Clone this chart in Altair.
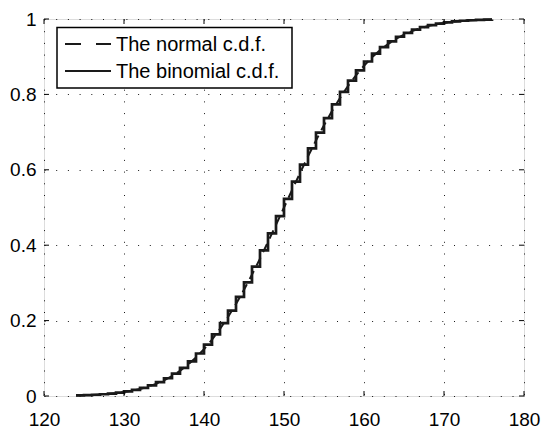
import altair as alt
import pandas as pd

# Data
x_vals = list(range(124, 177))
binom_cdf = [0.0016, 0.0023, 0.0033, 0.0047, 0.0065, 0.0090, 0.0122, 0.0163, 0.0216, 0.0284,
             0.0367, 0.0471, 0.0595, 0.0745, 0.0921, 0.1127, 0.1363, 0.1632, 0.1932, 0.2264,
             0.2627, 0.3016, 0.3431, 0.3864, 0.4313, 0.4770, 0.5230, 0.5687, 0.6136, 0.6569,
             0.6984, 0.7373, 0.7736, 0.8068, 0.8368, 0.8637, 0.8873, 0.9079, 0.9255, 0.9405,
             0.9529, 0.9633, 0.9716, 0.9784, 0.9837, 0.9878, 0.9910, 0.9935, 0.9953, 0.9967,
             0.9977, 0.9984, 0.9989]
normal_cdf = [0.0013, 0.0019, 0.0028, 0.0040, 0.0055, 0.0077, 0.0105, 0.0141, 0.0188, 0.0248,
              0.0323, 0.0416, 0.0530, 0.0667, 0.0829, 0.1020, 0.1241, 0.1494, 0.1778, 0.2095,
              0.2442, 0.2819, 0.3221, 0.3645, 0.4087, 0.4541, 0.5000, 0.5459, 0.5913, 0.6355,
              0.6779, 0.7181, 0.7558, 0.7905, 0.8222, 0.8506, 0.8759, 0.8980, 0.9171, 0.9333,
              0.9470, 0.9584, 0.9677, 0.9752, 0.9812, 0.9859, 0.9895, 0.9923, 0.9945, 0.9960,
              0.9972, 0.9981, 0.9987]
x_ticks = [120, 130, 140, 150, 160, 170, 180]
y_ticks = [0, 0.2, 0.4, 0.6, 0.8, 1]
legend_labels = ["The normal c.d.f.", "The binomial c.d.f."]

W, H = 480, 377
FONT = "Liberation Sans"
INK = "#1a1a1a"

df = pd.DataFrame({"x": x_vals, "binom": binom_cdf, "normal": normal_cdf})
xt = pd.DataFrame({"t": x_ticks})
yt = pd.DataFrame({"t": y_ticks})
one = alt.Data(values=[{}])

xscale = alt.Scale(domain=[120, 180], nice=False, zero=False)
yscale = alt.Scale(domain=[0, 1], nice=False, zero=False)

axis_common = dict(
    grid=True, gridDash=[1, 10.7], gridColor="#000000", gridOpacity=0.9, gridWidth=1,
    ticks=False, domain=False, labelFont=FONT, labelFontSize=19, labelColor="#000000",
    labelFlush=False, title=None,
)

X = alt.X("x:Q", scale=xscale,
          axis=alt.Axis(values=x_ticks, labelPadding=14, **axis_common))
Y = alt.Y("binom:Q", scale=yscale,
          axis=alt.Axis(values=y_ticks, format="~g", labelPadding=8, **axis_common))

normal = alt.Chart(df).mark_line(color=INK, strokeWidth=2, strokeDash=[9, 6]).encode(
    x=alt.X("x:Q", scale=xscale), y=alt.Y("normal:Q", scale=yscale))

binom = alt.Chart(df).mark_line(color=INK, strokeWidth=2.7, interpolate="step-after").encode(
    x=X, y=Y)

# inward ticks (MATLAB style)
tk = dict(color="#000000", strokeWidth=1)
tick_bottom = alt.Chart(xt).mark_rule(**tk).encode(
    x=alt.X("t:Q", scale=xscale), y=alt.value(H), y2=alt.value(H - 5))
tick_top = alt.Chart(xt).mark_rule(**tk).encode(
    x=alt.X("t:Q", scale=xscale), y=alt.value(0), y2=alt.value(5))
tick_left = alt.Chart(yt).mark_rule(**tk).encode(
    y=alt.Y("t:Q", scale=yscale), x=alt.value(0), x2=alt.value(5))
tick_right = alt.Chart(yt).mark_rule(**tk).encode(
    y=alt.Y("t:Q", scale=yscale), x=alt.value(W), x2=alt.value(W - 5))

# legend
leg_box = alt.Chart(one).mark_rect(fill="white", stroke="#000000", strokeWidth=1.5).encode(
    x=alt.value(13), x2=alt.value(248), y=alt.value(8.5), y2=alt.value(69))
leg_dash = alt.Chart(one).mark_rule(color=INK, strokeWidth=2, strokeDash=[16, 15]).encode(
    x=alt.value(21), x2=alt.value(67), y=alt.value(25))
leg_solid = alt.Chart(one).mark_rule(color=INK, strokeWidth=2.2).encode(
    x=alt.value(21), x2=alt.value(67), y=alt.value(52))
leg_t1 = alt.Chart(one).mark_text(align="left", baseline="middle", font=FONT, fontSize=20,
                                  color="#000000").encode(
    x=alt.value(72), y=alt.value(25.5), text=alt.value(legend_labels[0]))
leg_t2 = alt.Chart(one).mark_text(align="left", baseline="middle", font=FONT, fontSize=20,
                                  color="#000000").encode(
    x=alt.value(72), y=alt.value(52.5), text=alt.value(legend_labels[1]))

chart = alt.layer(
    binom, normal, tick_bottom, tick_top, tick_left, tick_right,
    leg_box, leg_dash, leg_solid, leg_t1, leg_t2,
).properties(
    width=W, height=H,
    autosize=alt.AutoSizeParams(type="none"),
    padding={"left": 44, "top": 19, "right": 18, "bottom": 33},
).configure_view(
    stroke="#000000", strokeWidth=1.5
).configure(background="white")

chart.save("out.html", embed_options={"renderer": "svg", "actions": False})
